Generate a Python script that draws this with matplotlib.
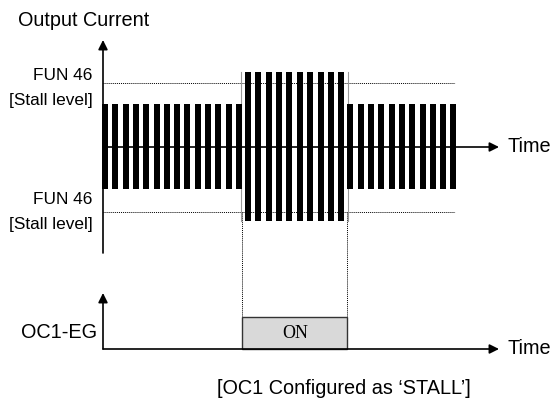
import matplotlib
matplotlib.use("Agg")
import matplotlib.pyplot as plt
from matplotlib.patches import Rectangle

SANS = 'Liberation Sans'
SERIF = 'Liberation Serif'

# ---- data (pulse times in px-like time units, amplitudes relative to time axis) ----
left_t = [105, 115, 126, 136, 146, 157, 167, 177, 187, 198, 208, 218, 229, 239]
mid_t = [248, 258, 269, 279, 289, 300, 310, 321, 331, 341]
right_t = [350, 361, 371, 381, 392, 402, 412, 423, 433, 443, 453]
normal_amp = (43, -42)      # top, bottom
stall_amp = (75, -74)
stall_level = (64, -65)
on_start, on_end = 242, 347

Y0 = 147      # pixel row of upper time axis
Y1 = 349      # pixel row of lower time axis
AX_X = 103

fig = plt.figure(figsize=(5.53, 4.09), dpi=100)
ax = fig.add_axes([0, 0, 1, 1])
ax.set_xlim(0, 553)
ax.set_ylim(409, 0)
ax.axis('off')

def py(v):
    return Y0 - v

# pulses
for ts, (top, bot) in [(left_t, normal_amp), (mid_t, stall_amp), (right_t, normal_amp)]:
    ax.bar(ts, [top - bot] * len(ts), bottom=[py(top)] * len(ts), width=6,
           color='black', linewidth=0, zorder=3)

# thin grey edges of stall section
for x in (on_start - 1, on_end + 1):
    ax.plot([x, x], [py(stall_amp[0]), py(stall_amp[1])], color='#999999', lw=0.8, zorder=2)

# stall level dotted lines
for v in stall_level:
    ax.plot([AX_X, 455], [py(v), py(v)], color='black', lw=0.7, ls=(0, (1, 1)), zorder=1)

# vertical dotted lines
for x in (on_start, on_end):
    ax.plot([x, x], [py(stall_level[1]), 317], color='black', lw=0.7, ls=(0, (1, 1)), zorder=1)

arrow = dict(arrowstyle='-|>', lw=1.2, color='black', mutation_scale=14, shrinkA=0, shrinkB=0)
# upper axes
ax.annotate('', xy=(AX_X, 40), xytext=(AX_X, 253), arrowprops=arrow)
ax.annotate('', xy=(499, Y0), xytext=(AX_X, Y0), arrowprops=arrow)
# lower axes
ax.annotate('', xy=(AX_X, 293), xytext=(AX_X, Y1), arrowprops=arrow)
ax.annotate('', xy=(499, Y1), xytext=(AX_X, Y1), arrowprops=arrow)

# ON box
ax.add_patch(Rectangle((on_start, 317), on_end - on_start, Y1 - 317,
                       facecolor='#d9d9d9', edgecolor='#333333', lw=1.0, zorder=2))
ax.text((on_start + on_end) / 2 + 1, 334, 'ON', family=SERIF, fontsize=13,
        ha='center', va='center')

big = 14.3
small = 12.4
ax.text(18, 20, 'Output Current', family=SANS, fontsize=big, ha='left', va='center')
ax.text(92, 75, 'FUN 46', family=SANS, fontsize=small, ha='right', va='center')
ax.text(93, 101, '[Stall level]', family=SANS, fontsize=small, ha='right', va='center')
ax.text(92, 200, 'FUN 46', family=SANS, fontsize=small, ha='right', va='center')
ax.text(93, 224, '[Stall level]', family=SANS, fontsize=small, ha='right', va='center')
ax.text(97, 333, 'OC1-EG', family=SANS, fontsize=big, ha='right', va='center')
ax.text(508, 147, 'Time', family=SANS, fontsize=big, ha='left', va='center')
ax.text(508, 349, 'Time', family=SANS, fontsize=big, ha='left', va='center')
ax.text(344, 388, '[OC1 Configured as \u2018STALL\u2019]', family=SANS, fontsize=big,
        ha='center', va='center')

fig.savefig('out.png', dpi=100)
